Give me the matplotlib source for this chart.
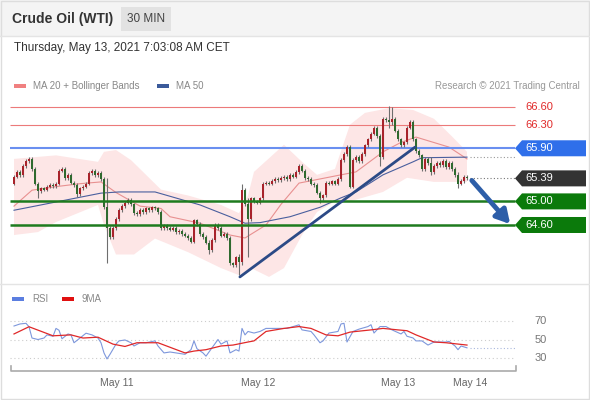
import matplotlib
matplotlib.use("Agg")
import matplotlib.pyplot as plt
from matplotlib.patches import Polygon, Rectangle
from matplotlib.lines import Line2D
from matplotlib.transforms import blended_transform_factory

plt.rcParams['font.family'] = ['Liberation Sans', 'DejaVu Sans']

# 30 min closes, Crude Oil (WTI)
closes = [65.42, 65.50, 65.45, 65.60, 65.68, 65.72, 65.55, 65.30, 65.18, 65.22,
          65.20, 65.25, 65.28, 65.26, 65.30, 65.52, 65.55, 65.40, 65.45, 65.32,
          65.28, 65.12, 65.22, 65.25, 65.30, 65.48, 65.52, 65.45, 65.48, 65.38,
          64.90, 64.55, 64.40, 64.55, 64.70, 64.85, 64.92, 64.98, 65.02, 64.95,
          64.80, 64.78, 64.86, 64.82, 64.88, 64.85, 64.90, 64.88, 64.82, 64.55,
          64.58, 64.55, 64.52, 64.55, 64.48, 64.50, 64.45, 64.42, 64.38, 64.32,
          64.68, 64.62, 64.45, 64.40, 64.30, 64.18, 64.35, 64.60, 64.55, 64.42,
          64.45, 64.38, 63.95, 63.92, 64.05, 63.98, 65.20, 64.95, 64.70, 65.05,
          65.00, 64.98, 65.05, 65.30, 65.32, 65.30, 65.35, 65.38, 65.36, 65.40,
          65.42, 65.38, 65.45, 65.42, 65.50, 65.60, 65.52, 65.40, 65.38, 65.30,
          65.28, 65.15, 65.05, 65.10, 65.32, 65.30, 65.34, 65.30, 65.38, 65.70,
          65.80, 65.92, 65.25, 65.70, 65.75, 65.68, 65.80, 65.95, 66.05, 66.15,
          66.25, 66.10, 65.75, 66.40, 66.38, 66.35, 66.40, 66.20, 66.05, 65.95,
          66.00, 66.25, 66.35, 66.05, 65.85, 65.78, 65.55, 65.72, 65.65, 65.50,
          65.60, 65.65, 65.62, 65.68, 65.58, 65.65, 65.55, 65.45, 65.30, 65.35,
          65.42, 65.39]
first_open = 65.30

# long wicks
spike_idx = [8, 21, 31, 65, 75, 76, 78, 102, 122, 125, 126, 139, 148]
spike_high = [65.30, 65.30, 65.40, 64.35, 64.10, 65.30, 65.05, 65.15, 66.15, 66.62, 66.60, 65.75, 65.50]
spike_low = [65.05, 65.08, 63.96, 64.10, 63.75, 63.92, 64.05, 64.98, 65.60, 66.25, 66.30, 65.45, 65.22]

ma20_idx = [0, 6, 14, 22, 29, 34, 42, 49, 52, 62, 72, 77, 84, 89, 95, 105, 114, 123, 129, 134, 145, 151]
ma20 = [64.92, 65.19, 65.25, 65.30, 65.33, 65.15, 64.92, 64.88, 64.74, 64.63, 64.43, 64.38, 64.60,
        64.95, 65.31, 65.41, 65.50, 65.84, 66.00, 66.09, 65.92, 65.72]

ma50_idx = [0, 12, 29, 35, 47, 62, 72, 77, 82, 92, 102, 109, 114, 123, 133, 136, 151]
ma50 = [64.85, 64.97, 65.14, 65.16, 65.16, 64.94, 64.74, 64.63, 64.64, 64.74, 64.90, 65.06, 65.16,
        65.45, 65.67, 65.74, 65.75]

bb_up_idx = [0, 14, 28, 30, 34, 39, 45, 49, 58, 69, 75, 78, 80, 90, 96, 101, 107, 112, 117, 125,
             133, 140, 146, 151]
bb_up = [65.72, 65.78, 65.67, 65.84, 65.87, 65.70, 65.40, 65.20, 65.10, 64.94, 64.80, 65.10, 65.50,
         65.96, 65.67, 65.45, 65.55, 66.30, 66.50, 66.58, 66.55, 66.40, 66.10, 65.84]
bb_lo_idx = [0, 8, 14, 28, 30, 34, 40, 47, 58, 69, 75, 79, 85, 90, 96, 101, 107, 112, 123, 131,
             140, 151]
bb_lo = [64.43, 64.48, 64.65, 64.94, 64.60, 64.10, 64.10, 64.37, 64.14, 63.87, 63.75, 63.87, 63.72,
         63.87, 64.43, 64.82, 65.00, 65.00, 65.16, 65.40, 65.33, 65.33]

rsi_idx = [0, 2, 4, 5, 6, 8, 10, 11, 13, 14, 15, 16, 18, 19, 20, 22, 24, 26, 28, 29,
           30, 31, 32, 34, 35, 37, 39, 40, 42, 44, 47, 48, 50, 52, 55, 57, 59, 60, 61, 63,
           64, 66, 68, 69, 71, 72, 74, 75, 76, 77, 78, 80, 82, 84, 88, 91, 95, 96, 99, 100,
           102, 103, 105, 108, 109, 110, 111, 113, 115, 118, 119, 120, 122, 124, 126, 129, 130, 131, 133, 134,
           136, 138, 140, 142, 144, 145, 147, 148, 149, 151]
rsi = [64.6, 66.8, 67.5, 63.8, 51.6, 50.0, 51.6, 55.0, 53.5, 62.0, 60.0, 50.8, 56.0, 55.0, 46.5, 51.6, 56.8, 55.0, 51.6, 46.5,
       35.5, 29.0, 34.0, 45.0, 48.5, 49.5, 46.5, 43.0, 46.5, 46.5, 48.5, 43.0, 35.5, 36.5, 35.0, 34.0, 39.0, 48.5, 40.0, 35.5,
       32.0, 41.0, 50.0, 45.0, 48.5, 35.5, 39.0, 37.5, 62.0, 55.0, 58.7, 57.0, 58.7, 62.0, 62.0, 62.0, 65.9, 60.4, 58.7, 55.0,
       46.5, 48.5, 57.0, 58.7, 66.8, 67.5, 47.3, 58.7, 61.2, 64.0, 66.0, 57.0, 64.0, 64.0, 60.4, 56.0, 58.7, 53.5, 51.7, 48.5,
       48.5, 44.0, 47.3, 47.3, 47.3, 48.0, 43.0, 39.0, 43.0, 41.0]

rsi_ma_idx = [0, 5, 13, 19, 23, 28, 33, 37, 41, 48, 57, 60, 64, 69, 73, 78, 80, 84, 90, 95,
              99, 104, 108, 112, 119, 123, 128, 131, 134, 140, 144, 151]
rsi_ma = [56.0, 63.8, 54.0, 55.0, 51.6, 52.5, 45.0, 42.5, 46.5, 46.5, 35.5, 37.5, 39.0, 43.0, 44.0, 47.3, 48.5, 58.7, 62.0, 64.0,
          62.0, 55.0, 54.0, 58.0, 60.4, 62.0, 60.4, 59.5, 55.0, 47.3, 46.5, 44.0]

resist_levels = [66.60, 66.30]
pivot_level = 65.90
support_levels = [65.00, 64.60]
last_price = 65.39

day_labels = ["May 11", "May 12", "May 13", "May 14"]
day_pos = [34.3, 81.3, 128.0, 152.0]

trend_x = [75.3, 133.7]
trend_y = [63.72, 65.92]
target = (166, 64.58)

W, H = 590, 400


def box(x0, y0, x1, y1):
    return [x0 / W, 1 - y1 / H, (x1 - x0) / W, (y1 - y0) / H]


fig = plt.figure(figsize=(W / 100, H / 100), dpi=100)
fig.patch.set_facecolor("white")

# header
fig.patches.append(Rectangle((0, 1 - 36 / H), 1, 36 / H, transform=fig.transFigure,
                             facecolor="#f4f4f4", edgecolor="none", zorder=0))
fig.patches.append(Rectangle((121 / W, 1 - 31 / H), 50 / W, 24 / H, transform=fig.transFigure,
                             facecolor="#e2e2e2", edgecolor="none", zorder=1))
fig.text(12 / W, 1 - 19 / H, "Crude Oil (WTI)", fontsize=10, fontweight="bold", color="#333333", va="center")
fig.text(146 / W, 1 - 19 / H, "30 MIN", fontsize=8.5, color="#444444", va="center", ha="center")
fig.text(14 / W, 1 - 48 / H, "Thursday, May 13, 2021 7:03:08 AM CET", fontsize=8.5, color="#333333", va="center")

# legend
fig.patches.append(Rectangle((14 / W, 1 - 88 / H), 12 / W, 4 / H, transform=fig.transFigure,
                             facecolor="#f08080", edgecolor="none"))
fig.text(33 / W, 1 - 86 / H, "MA 20 + Bollinger Bands", fontsize=7, color="#888888", va="center")
fig.patches.append(Rectangle((157 / W, 1 - 88 / H), 12 / W, 4 / H, transform=fig.transFigure,
                             facecolor="#3b5a9a", edgecolor="none"))
fig.text(176 / W, 1 - 86 / H, "MA 50", fontsize=7, color="#888888", va="center")
fig.text(580 / W, 1 - 86 / H, "Research \u00a9 2021 Trading Central", fontsize=7, color="#999999",
         va="center", ha="right")

# frame lines
for y in [36, 284]:
    fig.lines.append(Line2D([0, 1], [1 - y / H, 1 - y / H], transform=fig.transFigure, color="#e4e4e4", lw=1))
fig.patches.append(Rectangle((0.001, 0.002), 0.997, 0.996, transform=fig.transFigure,
                             facecolor="none", edgecolor="#dddddd", lw=1))

# ---- price panel ----
x_lo, x_hi = (10 - 14) / 3, (590 - 14) / 3
line_end = (515 - 14) / 3
ax = fig.add_axes(box(10, 95, 590, 284))
ax.set_xlim(x_lo, x_hi)
ax.set_ylim(63.6, 66.803)
ax.axis("off")

# bollinger band (upper and lower sampled at different candles, shared outline)
band_x = bb_up_idx + bb_lo_idx[::-1]
band_y = bb_up + bb_lo[::-1]
ax.add_patch(Polygon(list(zip(band_x, band_y)), closed=True, facecolor="#fde6e6", edgecolor="none", zorder=1))
ax.plot(ma20_idx, ma20, color="#e89090", lw=0.8, zorder=2)
ax.plot(ma50_idx, ma50, color="#4a5f9e", lw=0.8, zorder=2)
ax.hlines(ma50[-1], ma50_idx[-1] + 1, line_end, colors="#999999", linestyles=(0, (1, 2)), lw=0.8)

# candles
opens = [first_open] + closes[:-1]
for i, (o, c) in enumerate(zip(opens, closes)):
    hi, lo = max(o, c) + 0.03, min(o, c) - 0.03
    if i in spike_idx:
        k = spike_idx.index(i)
        hi, lo = max(hi, spike_high[k]), min(lo, spike_low[k])
    col = "#a8232b" if c >= o else "#2f6a2f"
    ax.vlines(i, lo, hi, colors="#6e6e6e", lw=0.8, zorder=3)
    ax.bar(i, max(abs(c - o), 0.012), bottom=min(o, c), width=0.8, color=col, zorder=4, linewidth=0)

# levels
for lv in resist_levels:
    ax.hlines(lv, x_lo, line_end, colors="#ec7a7a", lw=0.8, zorder=2)
    ax.text(170.3, lv, f"{lv:.2f}", color="#e02a2a", fontsize=8, va="center")
ax.hlines(pivot_level, x_lo, line_end, colors="#6a8ff0", lw=1.5, zorder=2)
for lv in support_levels:
    ax.hlines(lv, x_lo, line_end, colors="#1e7b1e", lw=1.8, zorder=5)
ax.hlines(last_price, len(closes), line_end, colors="#777777", linestyles=(0, (1, 2)), lw=0.8)

half = 8 / 59
tip, body, end = line_end, (522 - 14) / 3, (586 - 14) / 3


def tag(level, color):
    pts = [(tip, level), (body, level + half), (end, level + half), (end, level - half), (body, level - half)]
    ax.add_patch(Polygon(pts, closed=True, facecolor=color, edgecolor="none", zorder=6, clip_on=False))
    ax.text(170.3, level, f"{level:.2f}", color="white", fontsize=8, va="center", zorder=7)


tag(pivot_level, "#2f6fea")
tag(last_price, "#333333")
for lv in support_levels:
    tag(lv, "#0b7a0b")

ax.plot(trend_x, trend_y, color="#2c4a86", lw=2, zorder=6, solid_capstyle="round")
ax.annotate("", xy=target, xytext=(len(closes), last_price),
            arrowprops=dict(arrowstyle="-|>,head_length=0.8,head_width=0.45", color="#2d5ea8", lw=3.5),
            zorder=7)

# ---- RSI panel ----
fig.patches.append(Rectangle((12 / W, 1 - 301 / H), 12 / W, 4 / H, transform=fig.transFigure,
                             facecolor="#5b7ee0", edgecolor="none"))
fig.text(32 / W, 1 - 299 / H, "RSI", fontsize=7, color="#888888", va="center")
fig.patches.append(Rectangle((62 / W, 1 - 301 / H), 12 / W, 4 / H, transform=fig.transFigure,
                             facecolor="#e01010", edgecolor="none"))
fig.text(82 / W, 1 - 299 / H, "9MA", fontsize=7, color="#888888", va="center")

ax2 = fig.add_axes(box(10, 310, 590, 368))
ax2.set_xlim(x_lo, x_hi)
ax2.set_ylim(19.2, 81.9)
ax2.axis("off")
for g in [70, 50, 30]:
    ax2.hlines(g, x_lo, line_end, colors="#cccccc", linestyles=(0, (1, 2.5)), lw=0.8)
    ax2.text(175.5, g, str(g), color="#777777", fontsize=8, va="center", ha="center")
ax2.plot(rsi_idx, rsi, color="#7d97dc", lw=0.8)
ax2.plot(rsi_ma_idx, rsi_ma, color="#e02828", lw=0.9)
ax2.hlines(rsi[-1], rsi_idx[-1] + 1, line_end, colors="#aab8dd", linestyles=(0, (1, 2)), lw=0.8)

# x axis
trans = blended_transform_factory(ax2.transData, fig.transFigure)
yb = 1 - 371 / H
fig.lines.append(Line2D([11 / W, 11 / W, 516 / W, 516 / W], [yb + 5 / H, yb, yb, yb + 5 / H],
                        transform=fig.transFigure, color="#aaaaaa", lw=1.2))
for lab, p in zip(day_labels, day_pos):
    ax2.text(p, 1 - 383 / H, lab, transform=trans, fontsize=7.5, color="#666666", ha="center", va="center")

fig.savefig("out.png", dpi=100)
